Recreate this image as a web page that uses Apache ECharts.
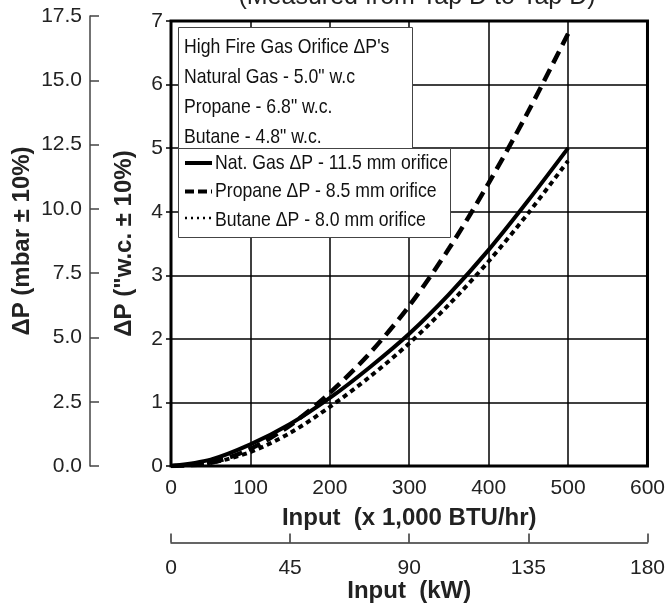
<!DOCTYPE html>
<html><head><meta charset="utf-8">
<script src="https://cdn.jsdelivr.net/npm/echarts@6/dist/echarts.min.js"></script>
<style>html,body{margin:0;padding:0;background:#fff}#c{width:668px;height:603px}</style>
</head><body><div id="c"></div>
<script>
const inputBTU = [0, 50, 100, 150, 200, 250, 300, 350, 400, 450, 500];
const natGas  = [0, 0.1, 0.34, 0.66, 1.07, 1.55, 2.08, 2.7, 3.4, 4.18, 5.0];
const propane = [0, 0.05, 0.27, 0.64, 1.15, 1.77, 2.52, 3.42, 4.45, 5.58, 6.8];
const butane  = [0, 0.05, 0.22, 0.52, 0.93, 1.4, 1.93, 2.54, 3.22, 3.98, 4.8];
const noteLines = ["High Fire Gas Orifice \u0394P's", 'Natural Gas - 5.0" w.c', 'Propane - 6.8" w.c.', 'Butane - 4.8" w.c.'];
const seriesNames = ['Nat. Gas \u0394P - 11.5 mm orifice', 'Propane \u0394P - 8.5 mm orifice', 'Butane \u0394P - 8.0 mm orifice'];

const F = "'Liberation Sans', Arial, sans-serif";
const chart = echarts.init(document.getElementById('c'), null, {renderer: 'canvas'});
const pts = arr => inputBTU.map((x, i) => [x, arr[i]]);

const lineStyles = [
  {color: '#000', width: 4, type: 'solid'},
  {color: '#000', width: 4.5, type: [13, 7]},
  {color: '#000', width: 4, type: [5, 4]}
];
const legendSample = [
  {lineWidth: 4, lineDash: null},
  {lineWidth: 4, lineDash: [9, 4]},
  {lineWidth: 2.5, lineDash: [2, 4]}
];
const SX = 0.84;
const textEl = (t, x, y) => ({type: 'text', x: x, y: y, scaleX: SX, z: 12,
  style: {text: t, fontFamily: F, fontSize: 21, fill: '#111', align: 'left', verticalAlign: 'middle'}});

const graphic = [
  {type: 'rect', shape: {x: 178.5, y: 27.5, width: 234, height: 121}, z: 10,
    style: {fill: '#fff', stroke: '#444', lineWidth: 1}},
  {type: 'rect', shape: {x: 178.5, y: 148.5, width: 272, height: 89}, z: 10,
    style: {fill: '#fff', stroke: '#444', lineWidth: 1}}
];
noteLines.forEach((t, i) => graphic.push(textEl(t, 184, 47 + i * 30)));
seriesNames.forEach((t, i) => {
  const cy = 163 + i * 28.5;
  graphic.push({type: 'line', z: 12, shape: {x1: 185, y1: i === 2 ? cy - 2 : cy, x2: 212, y2: i === 2 ? cy - 2 : cy},
    style: {stroke: '#000', lineWidth: legendSample[i].lineWidth, lineDash: legendSample[i].lineDash}});
  graphic.push(textEl(t, 215, cy));
});

chart.setOption({
  animation: false,
  title: {text: '(Measured from Tap D to Tap D)', left: 412, top: -20, textAlign: 'center',
    textStyle: {fontFamily: F, fontSize: 25, fontWeight: 'normal', color: '#222'}},
  grid: [
    {left: 171, right: 19, top: 21, bottom: 137, show: true, borderColor: '#000', borderWidth: 3, backgroundColor: 'transparent'},
    {left: 90, width: 10, top: 16, bottom: 137},
    {left: 171, right: 19, top: 540, height: 10}
  ],
  xAxis: [
    {gridIndex: 0, type: 'value', min: 0, max: 600, interval: 100,
      name: 'Input  (x 1,000 BTU/hr)', nameLocation: 'middle', nameGap: 40,
      nameTextStyle: {fontFamily: F, fontSize: 24, fontWeight: 'bold', color: '#222'},
      axisLine: {show: false}, axisTick: {show: false},
      axisLabel: {fontFamily: F, fontSize: 21, color: '#222', margin: 12},
      splitLine: {show: true, lineStyle: {color: '#000', width: 1.5}}},
    {gridIndex: 1, type: 'value', show: false, min: 0, max: 1},
    {gridIndex: 2, type: 'value', min: 0, max: 180, interval: 45, position: 'bottom',
      name: 'Input  (kW)', nameLocation: 'middle', nameGap: 36,
      nameTextStyle: {fontFamily: F, fontSize: 24, fontWeight: 'bold', color: '#222'},
      axisLine: {show: true, onZero: false, lineStyle: {color: '#333', width: 1.5}},
      axisTick: {show: true, inside: true, length: 9, lineStyle: {color: '#333', width: 1.5}},
      axisLabel: {fontFamily: F, fontSize: 21, color: '#222', margin: 15},
      splitLine: {show: false}}
  ],
  yAxis: [
    {gridIndex: 0, type: 'value', min: 0, max: 7, interval: 1,
      name: '\u0394P ("w.c. \u00b1 10%)', nameLocation: 'middle', nameGap: 35, nameRotate: 90,
      nameTextStyle: {fontFamily: F, fontSize: 24, fontWeight: 'bold', color: '#222'},
      axisLine: {show: false}, axisTick: {show: true, length: 5, lineStyle: {color: '#000', width: 1.5}},
      axisLabel: {fontFamily: F, fontSize: 21, color: '#222', margin: 8},
      splitLine: {show: true, lineStyle: {color: '#000', width: 1.5}}},
    {gridIndex: 1, type: 'value', min: 0, max: 17.5, interval: 2.5, position: 'left',
      name: '\u0394P (mbar \u00b1 10%)', nameLocation: 'middle', nameGap: 56, nameRotate: 90,
      nameTextStyle: {fontFamily: F, fontSize: 24, fontWeight: 'bold', color: '#222'},
      axisLine: {show: true, onZero: false, lineStyle: {color: '#444', width: 1.5}},
      axisTick: {show: true, inside: true, length: 9, lineStyle: {color: '#444', width: 1.5}},
      axisLabel: {fontFamily: F, fontSize: 21, color: '#222', margin: 8, formatter: v => v.toFixed(1)},
      splitLine: {show: false}},
    {gridIndex: 2, type: 'value', show: false, min: 0, max: 1}
  ],
  graphic: graphic,
  series: seriesNames.map((n, i) => ({
    name: n, type: 'line', xAxisIndex: 0, yAxisIndex: 0,
    data: pts([natGas, propane, butane][i]), smooth: 0.3,
    symbol: 'none', lineStyle: lineStyles[i], itemStyle: {color: '#000'}
  }))
});
</script></body></html>
